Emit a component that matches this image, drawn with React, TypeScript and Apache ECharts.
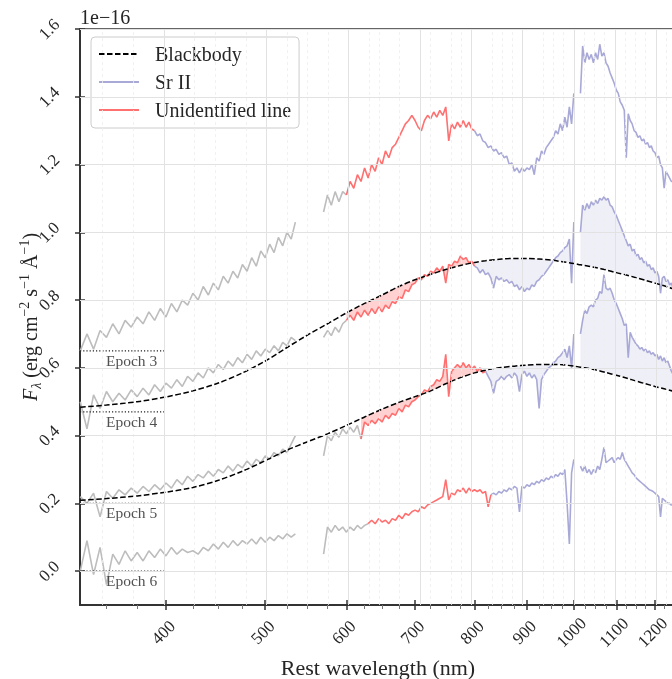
import React, { useEffect, useRef } from "react";
import * as echarts from "echarts";

// ---------- data (wavelength in nm, flux in 1e-16 erg cm^-2 s^-1 Å^-1) ----------
const blueWl = [330,335,340,345,350,355,360,365,370,375,380,385,390,395,400,405,410,415,420,425,430,435,440,445,450,455,460,465,470,475,480,485,490,495,500,505,510,515,520,525,530,535];
const redWl = [570,575,580,585,590,595,600,605,610,615,620,625,630,635,640,645,650,655,660,665,670,675,680,685,690,695,700,705,710,715,720,725,730,735,740,745,750,755,760,765,770,775,780,785,790,795,800,805,810,815,820,825,830,835,840,845,850,855,860,865,870,875,880,885,890,895,900,905,910,915,920,925,930,935,940,945,950,955,960,965,970,975,980,985,990,995,1000];
const irWl = [1015,1020,1025,1030,1035,1040,1045,1050,1055,1060,1065,1070,1075,1080,1085,1090,1095,1100,1105,1110,1115,1120,1125,1130,1135,1140,1145,1150,1155,1160,1165,1170,1175,1180,1185,1190,1195,1200,1205,1210,1215,1220,1225,1230,1235,1240,1245,1250,1255];

const ep3Blue = [0.65,0.70,0.655,0.71,0.69,0.73,0.70,0.74,0.72,0.75,0.73,0.765,0.74,0.775,0.75,0.79,0.765,0.80,0.785,0.82,0.80,0.84,0.815,0.85,0.83,0.87,0.85,0.885,0.865,0.905,0.885,0.925,0.90,0.945,0.925,0.965,0.94,0.985,0.96,1.0,0.98,1.03];
const ep3Red = [1.06,1.11,1.08,1.12,1.09,1.12,1.11,1.15,1.13,1.17,
  1.15,1.19,1.16,1.20,1.18,1.22,1.20,1.24,1.22,1.25,
  1.26,1.28,1.30,1.32,1.33,1.345,1.33,1.31,1.30,1.33,
  1.345,1.335,1.355,1.34,1.36,1.345,1.37,1.27,1.32,1.305,
  1.325,1.31,1.33,1.31,1.325,1.305,1.30,1.285,1.29,1.27,
  1.265,1.25,1.255,1.24,1.245,1.23,1.235,1.22,1.225,1.20,
  1.205,1.18,1.19,1.175,1.19,1.18,1.19,1.185,1.20,1.17,
  1.22,1.21,1.24,1.23,1.25,1.26,1.27,1.28,1.30,1.29,
  1.32,1.30,1.34,1.31,1.37,1.32,1.41];
const ep3Ir = [1.41,1.55,1.50,1.53,1.51,1.525,1.50,1.53,1.51,1.555,
  1.52,1.53,1.50,1.49,1.47,1.455,1.44,1.42,1.41,1.385,
  1.375,1.36,1.22,1.35,1.33,1.32,1.30,1.295,1.28,1.285,
  1.27,1.275,1.26,1.265,1.25,1.255,1.24,1.235,1.22,1.225,
  1.20,1.19,1.13,1.18,1.17,1.16,1.15,1.15,1.14];

const ep4Blue = [0.50,0.42,0.52,0.48,0.53,0.50,0.525,0.505,0.535,0.515,0.54,0.52,0.55,0.53,0.555,0.54,0.565,0.545,0.575,0.56,0.585,0.57,0.60,0.585,0.61,0.595,0.62,0.605,0.63,0.615,0.64,0.625,0.65,0.635,0.655,0.645,0.665,0.65,0.675,0.665,0.69,0.68];
const ep4Red = [0.69,0.71,0.695,0.72,0.705,0.73,0.74,0.755,0.74,0.765,
  0.75,0.77,0.755,0.775,0.76,0.78,0.765,0.785,0.775,0.795,
  0.79,0.81,0.805,0.83,0.825,0.845,0.85,0.865,0.86,0.875,
  0.87,0.885,0.88,0.895,0.885,0.90,0.85,0.905,0.90,0.915,
  0.91,0.93,0.92,0.925,0.91,0.915,0.90,0.895,0.88,0.89,
  0.875,0.88,0.865,0.835,0.87,0.86,0.865,0.855,0.86,0.85,
  0.855,0.84,0.845,0.83,0.84,0.825,0.835,0.83,0.845,0.84,
  0.855,0.86,0.87,0.875,0.885,0.895,0.905,0.915,0.925,0.93,
  0.94,0.945,0.955,0.96,0.98,0.85,1.03];
const ep4Ir = [1.00,1.08,1.065,1.085,1.07,1.09,1.08,1.095,1.085,1.10,
  1.095,1.105,1.095,1.10,1.08,1.075,1.06,1.05,1.035,1.02,
  1.005,0.99,0.975,0.96,0.965,0.945,0.95,0.93,0.935,0.92,
  0.925,0.91,0.915,0.90,0.905,0.89,0.895,0.88,0.885,0.87,
  0.82,0.865,0.87,0.855,0.86,0.845,0.85,0.835,0.83];

const ep5Blue = [0.22,0.20,0.23,0.16,0.235,0.215,0.24,0.225,0.245,0.23,0.25,0.235,0.255,0.24,0.26,0.245,0.27,0.255,0.28,0.265,0.285,0.275,0.295,0.28,0.30,0.29,0.31,0.295,0.315,0.305,0.325,0.31,0.33,0.32,0.34,0.33,0.35,0.34,0.36,0.35,0.375,0.40];
const ep5Red = [0.34,0.40,0.385,0.41,0.395,0.42,0.405,0.425,0.41,0.43,
  0.39,0.44,0.43,0.445,0.435,0.45,0.44,0.46,0.45,0.465,
  0.46,0.48,0.47,0.49,0.485,0.50,0.505,0.515,0.52,0.535,
  0.53,0.545,0.55,0.565,0.56,0.575,0.64,0.515,0.59,0.60,
  0.61,0.60,0.615,0.60,0.61,0.595,0.605,0.59,0.60,0.585,
  0.59,0.575,0.56,0.525,0.56,0.565,0.575,0.565,0.575,0.58,
  0.57,0.585,0.575,0.53,0.58,0.59,0.575,0.585,0.57,0.58,
  0.565,0.48,0.565,0.58,0.59,0.60,0.605,0.615,0.62,0.63,
  0.635,0.645,0.655,0.63,0.665,0.60,0.70];
const ep5Ir = [0.70,0.74,0.77,0.76,0.78,0.785,0.78,0.80,0.805,0.825,
  0.82,0.875,0.835,0.83,0.835,0.82,0.80,0.79,0.775,0.76,
  0.745,0.725,0.73,0.63,0.705,0.69,0.68,0.67,0.665,0.655,
  0.66,0.65,0.655,0.645,0.65,0.64,0.645,0.635,0.64,0.625,
  0.635,0.62,0.63,0.615,0.62,0.605,0.59,0.58,0.575];

const ep6Blue = [0.00,0.09,-0.01,0.07,-0.04,0.05,0.02,0.06,0.03,0.055,0.03,0.06,0.04,0.065,0.045,0.07,0.05,0.065,0.055,0.06,0.05,0.07,0.06,0.08,0.065,0.085,0.07,0.09,0.075,0.09,0.08,0.095,0.08,0.10,0.085,0.10,0.09,0.105,0.095,0.11,0.10,0.11];
const ep6Red = [0.05,0.13,0.115,0.135,0.12,0.13,0.115,0.13,0.12,0.135,
  0.125,0.135,0.14,0.15,0.14,0.155,0.145,0.15,0.14,0.155,
  0.15,0.165,0.155,0.17,0.165,0.175,0.18,0.175,0.19,0.185,
  0.195,0.20,0.205,0.21,0.215,0.22,0.27,0.21,0.23,0.225,
  0.24,0.235,0.245,0.23,0.245,0.235,0.24,0.235,0.24,0.23,
  0.235,0.19,0.225,0.23,0.225,0.235,0.23,0.24,0.235,0.245,
  0.24,0.25,0.245,0.175,0.25,0.245,0.255,0.25,0.26,0.255,
  0.265,0.26,0.27,0.265,0.275,0.27,0.28,0.275,0.285,0.28,
  0.29,0.285,0.30,0.20,0.08,0.29,0.33];
const ep6Ir = [0.31,0.295,0.31,0.29,0.30,0.285,0.30,0.29,0.31,0.30,
  0.33,0.365,0.32,0.325,0.33,0.335,0.32,0.33,0.335,0.33,
  0.35,0.33,0.32,0.31,0.30,0.29,0.285,0.275,0.27,0.265,
  0.26,0.255,0.25,0.245,0.24,0.238,0.235,0.23,0.225,0.22,
  0.16,0.215,0.21,0.205,0.20,0.20,0.195,0.195,0.19];

// blackbody fits (epochs 4 and 5)
const bbWl = [330,350,375,400,425,450,475,500,525,550,575,600,620,625,650,675,700,725,750,775,800,820,825,850,875,900,925,950,975,1000,1015,1025,1050,1075,1100,1125,1150,1175,1200,1225,1250,1260];
const bb4 = [0.484,0.490,0.500,0.514,0.532,0.555,0.585,0.620,0.660,0.697,0.730,0.762,0.785,0.790,0.815,0.840,0.860,0.876,0.890,0.902,0.911,0.916,0.917,0.921,0.923,0.923,0.921,0.918,0.913,0.908,0.904,0.902,0.896,0.889,0.881,0.874,0.866,0.858,0.850,0.842,0.833,0.830];
const bb5 = [0.209,0.214,0.222,0.233,0.247,0.268,0.295,0.326,0.357,0.382,0.405,0.430,0.450,0.455,0.478,0.498,0.515,0.532,0.553,0.571,0.585,0.593,0.595,0.601,0.605,0.608,0.610,0.610,0.609,0.605,0.602,0.600,0.594,0.586,0.578,0.570,0.561,0.553,0.545,0.538,0.531,0.528];

const epochNames = ["Epoch 3", "Epoch 4", "Epoch 5", "Epoch 6"];
const epochLevels = [0.65, 0.47, 0.2, 0.0];
const grayEnd = [600, 600, 620, 630];
const redEnd = [800, 800, 820, 830];
const epochLineWl = [329.8, 400];
const epochLabelWl = 350;

const majorTicks = [400, 500, 600, 700, 800, 900, 1000, 1100, 1200];
const minorTicks = [350, 375, 425, 450, 475, 525, 550, 575, 625, 650, 675, 725, 750, 775, 825, 850, 875, 925, 950, 975, 1025, 1050, 1075, 1125, 1150, 1175, 1225, 1250];
const yTicks = [0, 0.2, 0.4, 0.6, 0.8, 1.0, 1.2, 1.4, 1.6];
const xRangeWl = [329.8, 1258];
const yRange = [-0.1, 1.6];

// ---------- styling ----------
const FONT = "'Liberation Serif', 'DejaVu Serif', serif";
const GRAY = "#bdbdbd";
const RED = "#ff7070";
const LAV = "#a9a9d8";
const PINK = "rgba(255,70,70,0.25)";
const LAVFILL = "rgba(110,110,190,0.11)";
const INK = "#262626";

const L = (v: number) => Math.log10(v);

function pts(wl: number[], fl: number[], lo: number, hi: number) {
  const out: number[][] = [];
  wl.forEach((w, i) => {
    if (w >= lo && w <= hi) out.push([L(w), fl[i]]);
  });
  return out;
}

export default function App() {
  const ref = useRef<HTMLDivElement>(null);

  useEffect(() => {
    const chart = echarts.init(ref.current!, null, { renderer: "svg" });
    const xMin = L(xRangeWl[0]);
    const xMax = L(xRangeWl[1]);

    const series: any[] = [];

    const gridLines: any[] = [
      ...minorTicks.map((v) => ({ xAxis: L(v), lineStyle: { color: "#ededed", type: [3, 3], width: 0.8 } })),
      ...majorTicks.map((v) => ({ xAxis: L(v), lineStyle: { color: "#e2e2e2", type: "solid", width: 1 } })),
      ...yTicks.map((v) => ({ yAxis: v, lineStyle: { color: "#e2e2e2", type: "solid", width: 1 } })),
    ];
    series.push({
      type: "line",
      name: "grid",
      data: [[xMin, yRange[0]]],
      symbol: "none",
      lineStyle: { opacity: 0 },
      silent: true,
      z: 0,
      markLine: { silent: true, symbol: ["none", "none"], label: { show: false }, data: gridLines, animation: false },
    });

    const epochs = [
      { blue: ep3Blue, red: ep3Red, ir: ep3Ir },
      { blue: ep4Blue, red: ep4Red, ir: ep4Ir },
      { blue: ep5Blue, red: ep5Red, ir: ep5Ir },
      { blue: ep6Blue, red: ep6Red, ir: ep6Ir },
    ];
    const bbs: (number[] | null)[] = [null, bb4, bb5, null];

    const line = (name: string, data: number[][], color: string) => ({
      type: "line",
      name,
      data,
      symbol: "none",
      showSymbol: false,
      lineStyle: { color, width: 1.6 },
      itemStyle: { color },
      z: 2,
      silent: true,
    });

    const polys: { p: number[][]; color: string }[] = [];

    epochs.forEach((e, k) => {
      const g = grayEnd[k];
      const r = redEnd[k];
      series.push(line("", pts(blueWl, e.blue, 0, 9999), GRAY));
      series.push(line("", pts(redWl, e.red, 0, g), GRAY));
      series.push(line("Unidentified line", pts(redWl, e.red, g, r), RED));
      series.push(line("Sr II", pts(redWl, e.red, r, 9999), LAV));
      series.push(line("Sr II", pts(irWl, e.ir, 0, 9999), LAV));
      const bb = bbs[k];
      if (bb) {
        const mk = (wl: number[], fl: number[], lo: number, hi: number, color: string) => {
          const s = pts(wl, fl, lo, hi);
          const b = pts(bbWl, bb, lo, hi).reverse();
          polys.push({ p: s.concat(b), color });
        };
        mk(redWl, e.red, g, r, PINK);
        mk(redWl, e.red, r, 1000, LAVFILL);
        mk(irWl, e.ir, 1015, 1260, LAVFILL);
        series.push({
          type: "line",
          name: "Blackbody",
          data: pts(bbWl, bb, 0, 9999),
          symbol: "none",
          showSymbol: false,
          smooth: 0.3,
          lineStyle: { color: "#000", width: 1.5, type: [5.5, 2.5] },
          itemStyle: { color: "#000" },
          z: 4,
          silent: true,
        });
      }
      series.push({
        type: "line",
        name: "",
        data: [[L(epochLineWl[0]), epochLevels[k]], [L(epochLineWl[1]), epochLevels[k]]],
        symbol: "none",
        lineStyle: { color: "#222", width: 1.2, type: [1.2, 2] },
        z: 4,
        silent: true,
      });
    });

    series.push({
      type: "custom",
      name: "",
      silent: true,
      z: 1,
      data: polys.map((p, i) => [p.p[0][0], p.p[0][1], i]),
      renderItem: (params: any, api: any) => {
        const poly = polys[params.dataIndex];
        const cs = params.coordSys;
        return {
          type: "polygon",
          shape: { points: poly.p.map((q) => api.coord(q)) },
          style: { fill: poly.color, stroke: null },
          clipPath: { type: "rect", shape: { x: cs.x, y: cs.y, width: cs.width, height: cs.height } },
        };
      },
    });

    series.push({
      type: "scatter",
      name: "",
      symbolSize: 1,
      itemStyle: { color: "rgba(0,0,0,0)" },
      z: 5,
      silent: true,
      data: epochNames.map((n, k) => ({ name: n, value: [L(epochLabelWl), epochLevels[k]] })),
      label: {
        show: true,
        position: [0, 2],
        align: "left",
        verticalAlign: "top",
        formatter: "{b}",
        fontSize: 15.5,
        fontFamily: FONT,
        color: INK,
      },
    });

    const xBase = { type: "value", min: xMin, max: xMax, position: "bottom" };
    const yBase = { type: "value", min: yRange[0], max: yRange[1], position: "left" };

    const yName =
      "{i|F}{sub|\u03bb}{b| (erg cm}{sup|\u22122}{b| s}{sup|\u22121}{b| \u00c5}{sup|\u22121}{b|)}";

    chart.setOption({
      animation: false,
      textStyle: { fontFamily: FONT },
      grid: {
        left: 80,
        top: 29,
        right: -4,
        bottom: 74,
        show: true,
        borderColor: "#333",
        borderWidth: 1.5,
        backgroundColor: "transparent",
        containLabel: false,
        outerBoundsMode: "none",
      },
      legend: {
        show: true,
        data: ["Blackbody", "Sr II", "Unidentified line"],
        orient: "vertical",
        left: 91,
        top: 37,
        itemWidth: 40,
        itemHeight: 12,
        itemGap: 8,
        padding: [7, 8, 8, 7],
        borderColor: "#cccccc",
        borderWidth: 1,
        borderRadius: 4,
        backgroundColor: "rgba(255,255,255,0.8)",
        selectedMode: false,
        itemStyle: { opacity: 0 },
        textStyle: { fontSize: 20, fontFamily: FONT, color: INK, lineHeight: 20, padding: [0, 0, 0, 11] },
      },
      graphic: [
        { type: "text", left: 80, top: 7, style: { text: "1e\u221216", fontSize: 20, fontFamily: FONT, fill: INK } },
      ],
      xAxis: [
        {
          ...xBase,
          name: "Rest wavelength (nm)",
          nameLocation: "middle",
          nameGap: 51,
          nameMoveOverlap: false,
          nameTextStyle: { fontSize: 22, fontFamily: FONT, color: INK },
          axisLine: { show: true, onZero: false, lineStyle: { color: "#333", width: 2 } },
          axisTick: { show: true, customValues: majorTicks.map(L), length: 5, lineStyle: { color: "#333", width: 1.5 } },
          axisLabel: {
            show: true,
            customValues: majorTicks.map(L),
            rotate: 45,
            align: "center",
            verticalAlign: "middle",
            margin: 25,
            padding: [0, 7, 0, 0],
            hideOverlap: false,
            fontSize: 17,
            fontFamily: FONT,
            color: INK,
            formatter: (v: number) => String(Math.round(Math.pow(10, v))),
          },
          splitLine: { show: false },
        },
        {
          ...xBase,
          axisLine: { show: false, onZero: false },
          axisTick: { show: true, inside: true, customValues: majorTicks.map(L), length: 5, lineStyle: { color: "#333", width: 1.5 } },
          axisLabel: { show: false },
          splitLine: { show: false },
        },
        {
          ...xBase,
          axisLine: { show: false, onZero: false },
          axisTick: { show: true, customValues: minorTicks.map(L), length: 4, lineStyle: { color: "#777", width: 1 } },
          axisLabel: { show: false },
          splitLine: { show: false },
        },
      ],
      yAxis: [
        {
          ...yBase,
          name: yName,
          nameLocation: "middle",
          nameRotate: 90,
          nameGap: 37,
          nameMoveOverlap: false,
          nameTextStyle: {
            fontSize: 20,
            fontFamily: FONT,
            color: INK,
            rich: {
              i: { fontSize: 20, fontStyle: "italic", fontFamily: FONT, color: INK, lineHeight: 26 },
              b: { fontSize: 20, fontFamily: FONT, color: INK, lineHeight: 26 },
              sub: { fontSize: 14, fontStyle: "italic", fontFamily: FONT, color: INK, verticalAlign: "bottom", lineHeight: 15 },
              sup: { fontSize: 14, fontFamily: FONT, color: INK, verticalAlign: "top", lineHeight: 15 },
            },
          },
          axisLine: { show: true, onZero: false, lineStyle: { color: "#333", width: 2 } },
          axisTick: { show: true, customValues: yTicks, length: 5, lineStyle: { color: "#333", width: 1.5 } },
          axisLabel: {
            show: true,
            customValues: yTicks,
            rotate: 45,
            align: "center",
            verticalAlign: "middle",
            margin: 31,
            hideOverlap: false,
            fontSize: 17,
            fontFamily: FONT,
            color: INK,
            formatter: (v: number) => v.toFixed(1),
          },
          splitLine: { show: false },
        },
        {
          ...yBase,
          axisLine: { show: false, onZero: false },
          axisTick: { show: true, inside: true, customValues: yTicks, length: 5, lineStyle: { color: "#333", width: 1.5 } },
          axisLabel: { show: false },
          splitLine: { show: false },
        },
      ],
      series,
    });

    return () => chart.dispose();
  }, []);

  return <div ref={ref} style={{ position: "fixed", left: 0, top: 0, width: 672, height: 679 }} />;
}
